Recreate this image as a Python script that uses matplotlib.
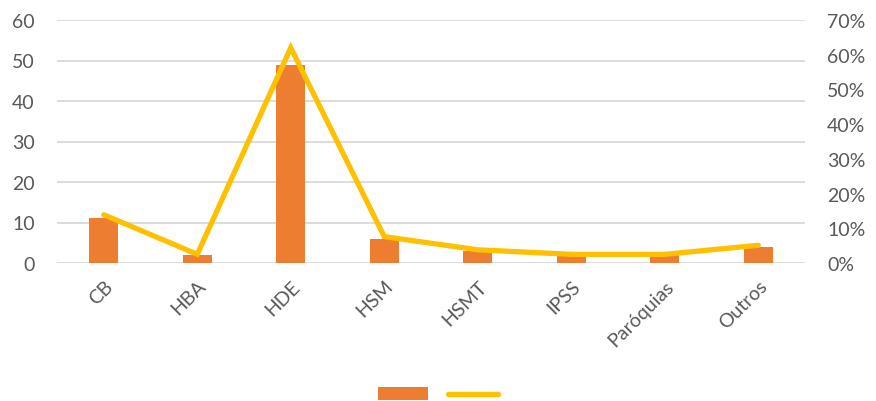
import matplotlib.pyplot as plt
import matplotlib.ticker as mticker

# values
categories = ["CB", "HBA", "HDE", "HSM", "HSMT", "IPSS", "Paróquias", "Outros"]
counts = [11, 2, 49, 6, 3, 2, 2, 4]
percent = [13.9, 2.5, 62.0, 7.6, 3.8, 2.5, 2.5, 5.1]

BAR_COLOR = "#ED7D31"
LINE_COLOR = "#FFC000"
TEXT_COLOR = "#595959"
GRID_COLOR = "#D9D9D9"

plt.rcParams["font.family"] = ["Lato", "DejaVu Sans"]

fig = plt.figure(figsize=(8.76, 4.02), dpi=100)
ax = fig.add_axes([57 / 876, 1 - 264 / 402, (805 - 57) / 876, (264 - 21) / 402])
x = list(range(len(categories)))

bars = ax.bar(x, counts, width=0.31, color=BAR_COLOR, zorder=2)
ax.set_ylim(0, 60)
ax.set_xlim(-0.5, len(categories) - 0.5)
ax.yaxis.set_major_locator(mticker.MultipleLocator(10))
ax.grid(axis="y", color=GRID_COLOR, linewidth=1.3, zorder=0)
ax.set_axisbelow(True)
for s in ax.spines.values():
    s.set_visible(False)
ax.tick_params(axis="both", length=0, labelsize=14, colors=TEXT_COLOR)
ax.tick_params(axis="y", pad=16)
ax.set_xticks(x)
ax.set_xticklabels(categories, rotation=45, ha="right", rotation_mode="anchor")
ax.tick_params(axis="x", pad=10)

ax2 = ax.twinx()
line, = ax2.plot(x, percent, color=LINE_COLOR, linewidth=3.8,
                 solid_capstyle="round", solid_joinstyle="miter", zorder=3)
ax2.set_ylim(0, 70)
ax2.yaxis.set_major_locator(mticker.MultipleLocator(10))
ax2.yaxis.set_major_formatter(mticker.FuncFormatter(lambda v, p: f"{v:.0f}%"))
for s in ax2.spines.values():
    s.set_visible(False)
ax2.tick_params(axis="y", length=0, labelsize=14, colors=TEXT_COLOR, pad=16)

fig.legend(handles=[bars, line], labels=["", ""], loc="center",
           bbox_to_anchor=(0.5, 1 - 396 / 402), ncol=2, frameon=False,
           fontsize=13, handlelength=2.8, handletextpad=0, columnspacing=1.1)

fig.savefig("out.png", dpi=100)
